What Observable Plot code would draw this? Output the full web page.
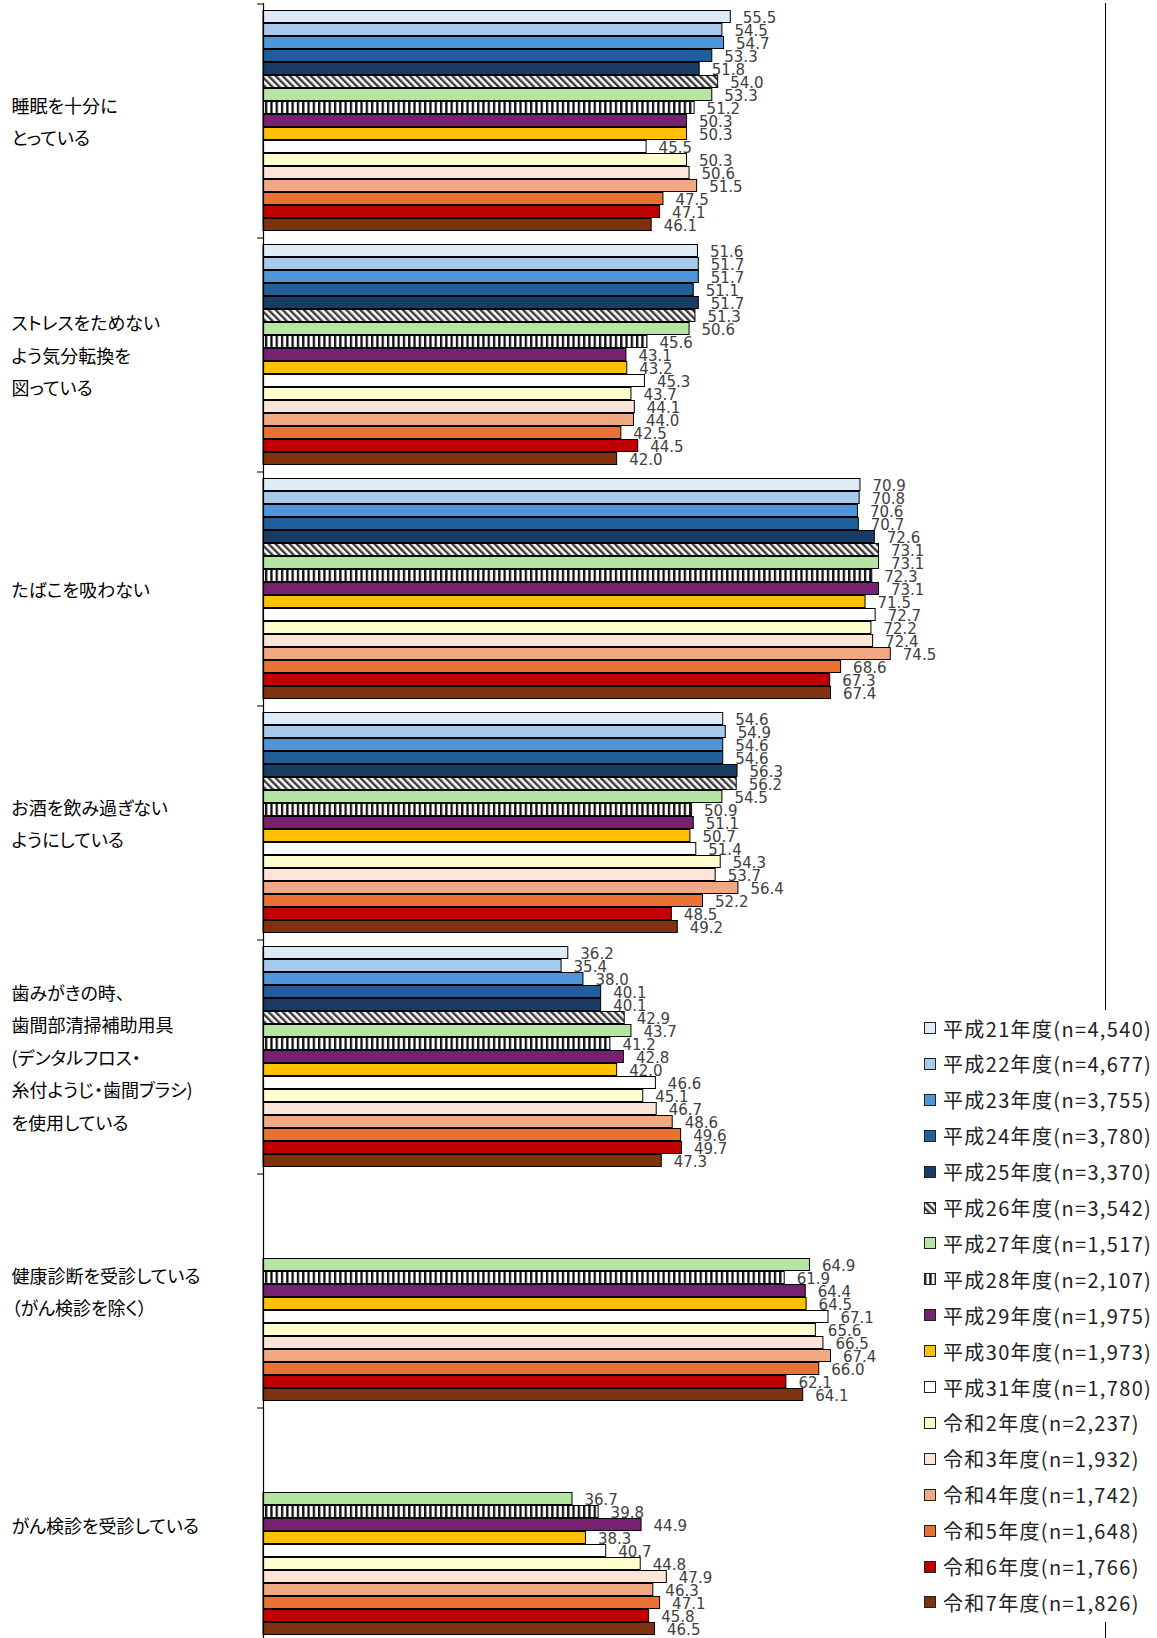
<!DOCTYPE html>
<html>
<head>
<meta charset="utf-8">
<script src="https://cdn.jsdelivr.net/npm/d3@7"></script>
<script src="https://cdn.jsdelivr.net/npm/@observablehq/plot@0.6"></script>
<style>
  html, body { margin: 0; padding: 0; background: #fff; }
  #wrap { position: relative; width: 1157px; height: 1638px; overflow: hidden; }
  #legend { position: absolute; left: 915px; top: 1010px; width: 242px; height: 612px; background: #fff; }
  .row { position: absolute; left: 0; height: 36px; display: flex; align-items: center; }
  .row svg { margin-left: 9px; margin-right: 7px; flex: none; }
  .row span { font-family: "Noto Sans CJK JP", sans-serif; font-size: 20px; color: #222; font-feature-settings: "palt"; letter-spacing: 1.35px; white-space: nowrap; }
</style>
</head>
<body>
<div id="wrap"><div id="chart"></div><div id="legend"></div></div>
<script>
// ---- data ----
const categories = [
  "睡眠を十分に\nとっている",
  "ストレスをためない\nよう気分転換を\n図っている",
  "たばこを吸わない",
  "お酒を飲み過ぎない\nようにしている",
  "歯みがきの時、\n歯間部清掃補助用具\n(デンタルフロス・\n糸付ようじ・歯間ブラシ)\nを使用している",
  "健康診断を受診している\n（がん検診を除く）",
  "がん検診を受診している"
];
const years = [
  "平成21年度", "平成22年度", "平成23年度", "平成24年度", "平成25年度", "平成26年度",
  "平成27年度", "平成28年度", "平成29年度", "平成30年度", "平成31年度",
  "令和2年度", "令和3年度", "令和4年度", "令和5年度", "令和6年度", "令和7年度"
];
const sampleSizes = [
  "4,540", "4,677", "3,755", "3,780", "3,370", "3,542", "1,517", "2,107", "1,975",
  "1,973", "1,780", "2,237", "1,932", "1,742", "1,648", "1,766", "1,826"
];
const colors = [
  "#DDEBF7", "#A6CAEC", "#4F95D9", "#215F9A", "#193C64", "url(#hatch26)",
  "#B4E5A2", "url(#stripe28)", "#782170", "#FFC000", "#FFFFFF",
  "#FFFFCC", "#FCE4D6", "#F1A983", "#E97132", "#C00000", "#7F3110"
];
const sleepValues   = [55.5, 54.5, 54.7, 53.3, 51.8, 54.0, 53.3, 51.2, 50.3, 50.3, 45.5, 50.3, 50.6, 51.5, 47.5, 47.1, 46.1];
const stressValues  = [51.6, 51.7, 51.7, 51.1, 51.7, 51.3, 50.6, 45.6, 43.1, 43.2, 45.3, 43.7, 44.1, 44.0, 42.5, 44.5, 42.0];
const smokeValues   = [70.9, 70.8, 70.6, 70.7, 72.6, 73.1, 73.1, 72.3, 73.1, 71.5, 72.7, 72.2, 72.4, 74.5, 68.6, 67.3, 67.4];
const alcoholValues = [54.6, 54.9, 54.6, 54.6, 56.3, 56.2, 54.5, 50.9, 51.1, 50.7, 51.4, 54.3, 53.7, 56.4, 52.2, 48.5, 49.2];
const dentalValues  = [36.2, 35.4, 38.0, 40.1, 40.1, 42.9, 43.7, 41.2, 42.8, 42.0, 46.6, 45.1, 46.7, 48.6, 49.6, 49.7, 47.3];
const checkupValues = [null, null, null, null, null, null, 64.9, 61.9, 64.4, 64.5, 67.1, 65.6, 66.5, 67.4, 66.0, 62.1, 64.1];
const cancerValues  = [null, null, null, null, null, null, 36.7, 39.8, 44.9, 38.3, 40.7, 44.8, 47.9, 46.3, 47.1, 45.8, 46.5];
const seriesByCategory = [sleepValues, stressValues, smokeValues, alcoholValues, dentalValues, checkupValues, cancerValues];

const data = [];
categories.forEach((c, ci) => seriesByCategory[ci].forEach((v, yi) => {
  if (v != null) data.push({category: c, year: years[yi], value: v});
}));

// ---- chart ----
const chart = Plot.plot({
  width: 1157,
  height: 1641,
  marginTop: 3,
  marginBottom: 0,
  marginLeft: 263,
  marginRight: 52,
  x: {domain: [0, 100], axis: null},
  y: {domain: years, paddingInner: 0, paddingOuter: 0.5, axis: null},
  fy: {domain: categories, padding: 0, axis: null},
  color: {domain: years, range: colors},
  style: {background: "#fff", overflow: "visible"},
  marks: [
    Plot.barX(data, {fy: "category", y: "year", x: "value", fill: "year", stroke: "#000", strokeWidth: 1, insetTop: 0.5, insetBottom: 0.5}),
    Plot.text(data, {fy: "category", y: "year", x: "value", text: d => d.value.toFixed(1),
      dx: 12, dy: 1, textAnchor: "start", fontSize: 15, fill: "#404040", fontFamily: "DejaVu Sans"}),
    Plot.ruleX([0], {stroke: "#000", strokeWidth: 1.2}),
    Plot.ruleX([100], {stroke: "#000", strokeWidth: 1}),
    Plot.ruleY([years[0]], {x1: 0, x2: 0, insetLeft: -6, dy: -13, stroke: "#000"}),
    Plot.text(categories, {fy: d => d, text: d => d, frameAnchor: "left", textAnchor: "start",
      dx: -252, dy: -2, lineHeight: 1.8, fontSize: 18, fill: "#000", fontFamily: "Noto Sans CJK JP"})
  ]
});

const defs = `
<defs>
  <pattern id="hatch26" patternUnits="userSpaceOnUse" width="5" height="5" patternTransform="rotate(-45)">
    <rect width="5" height="5" fill="#fff"/>
    <rect width="2.4" height="5" fill="#3a3a3a"/>
  </pattern>
  <pattern id="stripe28" patternUnits="userSpaceOnUse" width="5.3" height="10">
    <rect width="5.3" height="10" fill="#fff"/>
    <rect width="2.3" height="10" fill="#111"/>
  </pattern>
</defs>`;
chart.insertAdjacentHTML("afterbegin", defs);
chart.style.fontFeatureSettings = '"palt"';
document.getElementById("chart").appendChild(chart);

// ---- legend ----
const legend = document.getElementById("legend");
years.forEach((y, i) => {
  const row = document.createElement("div");
  row.className = "row";
  row.style.top = (18 + i * 35.9 - 18) + "px";
  row.innerHTML = `<svg width="12" height="12"><rect x="0.5" y="0.5" width="11" height="11" fill="${colors[i]}" stroke="#222" stroke-width="1"/></svg><span>${y}(n=${sampleSizes[i]})</span>`;
  legend.appendChild(row);
});
</script>
</body>
</html>
